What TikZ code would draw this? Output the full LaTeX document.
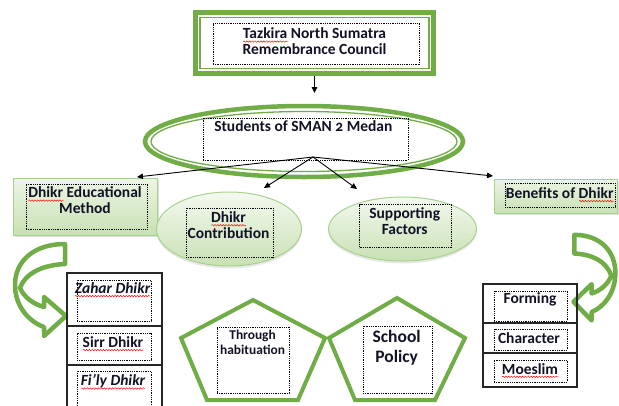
\documentclass[tikz,border=0pt]{standalone}
\usepackage{fontspec}
\setmainfont{Carlito}
\usetikzlibrary{shapes.geometric,arrows.meta,shadows,fit,decorations.pathmorphing}
\definecolor{leaf}{RGB}{112,173,71}
\definecolor{paleleaf}{RGB}{169,209,142}
\definecolor{mint}{RGB}{236,245,229}
\definecolor{sage}{RGB}{200,225,180}
\definecolor{ink}{RGB}{18,18,38}
% red wavy underline for flagged words
\newlength\spellwd
\newcommand\spellmark[1]{\settowidth\spellwd{#1}\rlap{\tikz[baseline=0pt,x=1pt,y=1pt]
  \draw[red, line width=0.45pt, decorate, decoration={snake,amplitude=0.75pt,segment length=2.8pt}]
  (0,-2.8) -- (\spellwd,-2.8);}#1}
\tikzset{
  dotbox/.style={draw=black, line width=0.8pt, dash pattern=on 0.9pt off 0.9pt, inner sep=0pt},
  rowbox/.style={draw=black!85, line width=1.2pt, inner sep=0pt},
  greenbox/.style={draw=paleleaf, line width=1pt, inner sep=0pt, top color=mint, bottom color=sage,
    drop shadow={shadow xshift=2pt, shadow yshift=-2pt, opacity=0.25}},
  greenoval/.style={ellipse, draw=paleleaf, line width=1pt, inner sep=0pt, top color=mint!60!white, bottom color=sage,
    drop shadow={shadow xshift=0pt, shadow yshift=-2.5pt, opacity=0.18}},
  pent/.style={draw=leaf, line width=4pt, line join=miter},
  conn/.style={draw=black, line width=0.9pt, -{Triangle[length=6pt,width=5.5pt]}},
  curvestroke/.style={draw=leaf, line width=4.5pt, fill=white, line join=round},
  wordtext/.style={inner sep=0pt, text=ink},
}
% hollow curved arrow, drawn in a local frame
\newcommand\curvedarrow{%
  \path[curvestroke] (52,2) .. controls (20,2) and (1,20) .. (2,45)
    .. controls (3,66) and (17,80) .. (31,85)
    -- (31,94) -- (53,74) -- (31,55) -- (31,65)
    .. controls (20,62) and (11,55) .. (7,46)
    .. controls (13,30) and (31,23) .. (52,22) -- cycle;}
\begin{document}
\begin{tikzpicture}[x=1pt, y=-1pt, font=\fontsize{15.5}{16.2}\selectfont\bfseries]
\useasboundingbox (0,0) rectangle (619,405);
\fill[white] (0,0) rectangle (619,405);

% council frame
\node[fit={(195.5,12.5)(433.5,73.5)}, draw=leaf, line width=5pt, inner sep=0pt] (council) {};
\draw[leaf, line width=1.3pt] (200,17.5) rectangle (429,68.5);
\node[dotbox, fit={(213,23)(419,64)}] (councilbox) {};
\node[wordtext, align=center] (counciltext) at (314.5,41.5) {\spellmark{Tazkira} North Sumatra\\Remembrance Council};

% students oval
\node[ellipse, draw=leaf, line width=4.5pt, minimum width=318pt, minimum height=71pt, inner sep=0pt] (students) at (304,141.5) {};
\draw[leaf, line width=1.3pt] (students.center) ellipse [x radius=153, y radius=30];
\node[dotbox, fit={(203,118)(408,160)}] (studentsbox) {};
\node[wordtext, anchor=base] (studentstext) at (303.3,131.7) {Students of SMAN {\addfontfeatures{Numbers=OldStyle}2} Medan};
\coordinate (studentsin) at (314.5,93);
\coordinate (hub) at (313,157);
\draw[conn] (council.south) -- (studentsin);

% second level
\node[greenbox, fit={(13,178)(157,235)}] (edu) {};
\node[dotbox, fit={(26,184)(147,229)}] (edubox) {};
\node[wordtext, align=center] (edutext) at (85,200.5) {\spellmark{Dhikr} Educational\\Method};

\node[greenoval, minimum width=145pt, minimum height=74pt] (contrib) at (229,229) {};
\node[dotbox, fit={(186,208)(273,257)}] (contribbox) {};
\node[wordtext, align=center] (contribtext) at (228.5,225.2) {\spellmark{Dhikr}\\Contribution};

\node[greenoval, minimum width=148pt, minimum height=64pt] (support) at (402.5,229) {};
\node[dotbox, fit={(359.5,204.5)(451.5,247.5)}] (supportbox) {};
\node[wordtext, align=center] (supporttext) at (404.7,221.3) {Supporting\\Factors};

\node[greenbox, fit={(494,179)(617,213)}] (benefits) {};
\node[dotbox, fit={(505,183)(615,207)}] (benefitsbox) {};
\node[wordtext, anchor=base] (benefitstext) at (559.7,198.3) {Benefits of \spellmark{Dhikr}};

\coordinate (eduin) at (137,177);
\coordinate (contribin) at (264,188);
\coordinate (supportin) at (357,189);
\coordinate (benefitsin) at (493,176);
\draw[conn] (hub) -- (eduin);
\draw[conn] (hub) -- (contribin);
\draw[conn] (hub) -- (supportin);
\draw[conn] (hub) -- (benefitsin);

% curved arrows
\begin{scope}[shift={(13,242)}]
  \curvedarrow
\end{scope}
\begin{scope}[shift={(617,233)}, xscale=-0.82, yscale=0.93]
  \curvedarrow
\end{scope}

% method list
\node[rowbox, fit={(67,273)(162,326)}] (zaharrow) {};
\node[rowbox, fit={(67,326)(162,365)}] (sirrrow) {};
\node[rowbox, fit={(67,365)(162,412)}] (filyrow) {};
\node[dotbox, fit={(77,280)(151,321)}] (zaharbox) {};
\node[dotbox, fit={(77,333)(151,360)}] (sirrbox) {};
\node[dotbox, fit={(77,371)(151,412)}] (filybox) {};
\node[wordtext, anchor=base] (zahartext) at (112.5,293.3) {\itshape\spellmark{Zahar Dhikr}};
\node[wordtext, anchor=base] (sirrtext) at (113,347.3) {\spellmark{Sirr Dhikr}};
\node[wordtext, anchor=base] (filytext) at (113,385.7) {\itshape\spellmark{Fi’ly Dhikr}};

% benefit list
\node[rowbox, fit={(483,284)(577,323)}] (formingrow) {};
\node[rowbox, fit={(483,323)(577,353)}] (characterrow) {};
\node[rowbox, fit={(483,353)(577,387)}] (moeslimrow) {};
\node[dotbox, fit={(494,291)(567,321)}] (formingbox) {};
\node[dotbox, fit={(494,329)(567,350)}] (characterbox) {};
\node[dotbox, fit={(494,360)(567,382)}] (moeslimbox) {};
\node[wordtext, anchor=base] (formingtext) at (530,303.3) {Forming};
\node[wordtext, anchor=base] (charactertext) at (529,343.3) {Character};
\node[wordtext, anchor=base] (moeslimtext) at (530,374) {\spellmark{Moeslim}};

% pentagons
\draw[pent] (253,300) -- (325,338) -- (298,400) -- (207,400) -- (181,338) -- cycle;
\draw[pent] (397,298) -- (465,338) -- (435,400) -- (355,400) -- (329,338) -- cycle;
\node[dotbox, fit={(217,327)(289,393)}] (habitbox) {};
\node[dotbox, fit={(363,326)(432,393)}] (policybox) {};
\node[wordtext, align=center, font=\fontsize{13.4}{14.7}\selectfont\bfseries] (habittext) at (252.6,342.5) {Through\\habituation};
\node[wordtext, align=center, font=\fontsize{17.5}{20.4}\selectfont\bfseries] (policytext) at (396.7,348) {School\\Policy};
\end{tikzpicture}
\end{document}
